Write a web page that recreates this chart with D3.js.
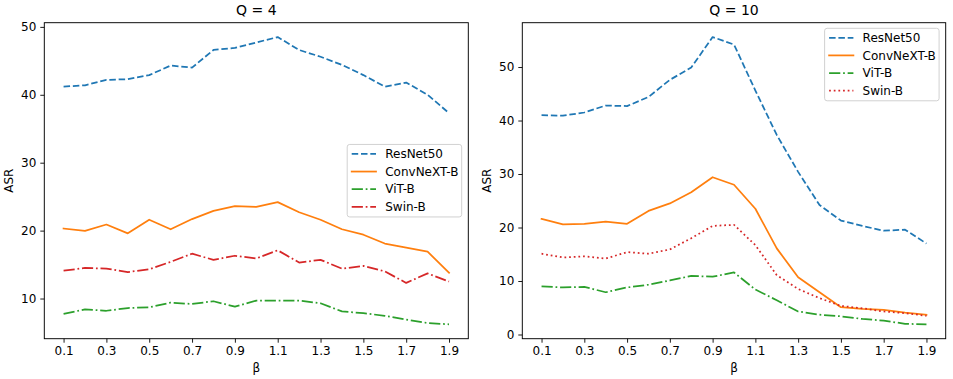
<!DOCTYPE html>
<html>
<head>
<meta charset="utf-8">
<script src="https://cdn.jsdelivr.net/npm/d3@7"></script>
<style>
  html, body { margin: 0; padding: 0; background: #fff; }
  svg { display: block; font-family: "DejaVu Sans", sans-serif; }
</style>
</head>
<body>
<svg id="chart" width="953" height="379"></svg>
<script>
// ---------- data ----------
const betas = [0.1,0.2,0.3,0.4,0.5,0.6,0.7,0.8,0.9,1.0,1.1,1.2,1.3,1.4,1.5,1.6,1.7,1.8,1.9];
const xTickLabels = ["0.1","0.3","0.5","0.7","0.9","1.1","1.3","1.5","1.7","1.9"];
const seriesNames = ["ResNet50","ConvNeXT-B","ViT-B","Swin-B"];

// Q = 4
const q4ResNet50  = [41.2,41.4,42.2,42.3,42.9,44.3,44.0,46.6,46.9,47.7,48.5,46.6,45.6,44.4,42.9,41.2,41.8,40.0,37.3];
const q4ConvNeXtB = [20.3,19.95,20.9,19.6,21.6,20.2,21.7,22.9,23.6,23.5,24.2,22.7,21.6,20.2,19.4,18.1,17.5,16.9,13.8];
const q4ViTB      = [7.75,8.4,8.2,8.6,8.7,9.4,9.2,9.6,8.8,9.7,9.7,9.7,9.3,8.1,7.85,7.45,6.9,6.4,6.2];
const q4SwinB     = [14.1,14.5,14.4,13.9,14.3,15.4,16.6,15.7,16.3,15.9,17.1,15.3,15.7,14.4,14.8,14.0,12.3,13.7,12.5];
const q4Ticks = [10,20,30,40,50];

// Q = 10
const q10ResNet50  = [41.0,40.9,41.5,42.8,42.7,44.4,47.6,49.9,55.6,54.2,45.6,37.3,30.4,24.2,21.3,20.3,19.4,19.6,17.0];
const q10ConvNeXtB = [21.6,20.6,20.7,21.1,20.7,23.1,24.5,26.6,29.4,28.0,23.5,16.1,10.7,7.9,5.1,4.8,4.6,4.1,3.7];
const q10ViTB      = [9.0,8.8,8.9,7.9,8.8,9.3,10.1,10.95,10.8,11.6,8.4,6.4,4.3,3.7,3.4,2.9,2.6,2.0,1.9];
const q10SwinB     = [15.1,14.4,14.6,14.2,15.4,15.1,15.9,18.0,20.3,20.5,16.7,11.1,8.5,6.8,5.35,4.9,4.3,4.0,3.5];
const q10Ticks = [0,10,20,30,40,50];

// ---------- styles ----------
const colors = ["#1f77b4","#ff7f0e","#2ca02c","#d62728"];
const DASH = "6.5,2.8", SOLID = null, DASHDOT = "11.2,2.8,1.75,2.8", DOT = "1.75,2.9";

const svg = d3.select("#chart");

function panel(cfg) {
  const {x0, x1, y0, y1, title, series, styles, yTicks, legendPos} = cfg;
  const all = series.flat();
  const mn = d3.min(all), mx = d3.max(all), r = mx - mn;
  const x = d3.scaleLinear().domain([0.01, 1.99]).range([x0, x1]);
  const y = d3.scaleLinear().domain([mn - 0.05*r, mx + 0.05*r]).range([y1, y0]);
  const g = svg.append("g");

  const line = d3.line().x((d,i) => x(betas[i])).y(d => y(d));
  series.forEach((s, k) => {
    g.append("path")
      .attr("d", line(s))
      .attr("fill", "none")
      .attr("stroke", colors[k])
      .attr("stroke-width", 1.75)
      .attr("stroke-linejoin", "round")
      .attr("stroke-linecap", styles[k] ? "butt" : "square")
      .attr("stroke-dasharray", styles[k]);
  });

  // axes
  const xAxis = d3.axisBottom(x)
    .tickValues(xTickLabels.map(Number))
    .tickFormat((d,i) => xTickLabels[i])
    .tickSize(4).tickPadding(4);
  const gx = g.append("g").attr("transform", `translate(0,${y1})`).call(xAxis);
  const yAxis = d3.axisLeft(y).tickValues(yTicks).tickFormat(d3.format("d")).tickSize(4).tickPadding(4);
  const gy = g.append("g").attr("transform", `translate(${x0},0)`).call(yAxis);
  [gx, gy].forEach(a => {
    a.select(".domain").remove();
    a.selectAll("line").attr("stroke", "#000").attr("stroke-width", 0.9);
    a.selectAll("text").attr("font-size", 12).attr("fill", "#000")
      .attr("font-family", "DejaVu Sans, sans-serif");
  });

  // frame
  g.append("rect").attr("x", x0).attr("y", y0).attr("width", x1 - x0).attr("height", y1 - y0)
    .attr("fill", "none").attr("stroke", "#000").attr("stroke-width", 0.95);

  // title and labels
  g.append("text").attr("x", (x0 + x1)/2).attr("y", 15).attr("text-anchor", "middle")
    .attr("font-size", 14).text(title);
  g.append("text").attr("x", (x0 + x1)/2).attr("y", 372).attr("text-anchor", "middle")
    .attr("font-size", 12).text("β");
  g.append("text")
    .attr("transform", `translate(${x0 - 31},${(y0 + y1)/2}) rotate(-90)`)
    .attr("text-anchor", "middle").attr("font-size", 12).text("ASR");

  // legend
  const lw = 114.5, lh = 72.5;
  const lx = x1 - 6.6 - lw;
  const ly = legendPos === "center right" ? (y0 + y1)/2 - lh/2 : y0 + 5.6;
  const lg = g.append("g").attr("transform", `translate(${lx},${ly})`);
  lg.append("rect").attr("width", lw).attr("height", lh).attr("rx", 2.5)
    .attr("fill", "#fff").attr("fill-opacity", 0.8)
    .attr("stroke", "#cccccc").attr("stroke-width", 0.9);
  seriesNames.forEach((name, k) => {
    const yy = 9.5 + k*17.6;
    lg.append("line").attr("x1", 4.5).attr("x2", 28.8).attr("y1", yy).attr("y2", yy)
      .attr("stroke", colors[k]).attr("stroke-width", 1.75)
      .attr("stroke-linecap", styles[k] ? "butt" : "square")
      .attr("stroke-dasharray", styles[k]);
    lg.append("text").attr("x", 38).attr("y", yy).attr("dy", "0.36em")
      .attr("font-size", 12).text(name);
  });
}

panel({
  x0: 44.3, x1: 468.3, y0: 22.7, y1: 338.7, title: "Q = 4",
  series: [q4ResNet50, q4ConvNeXtB, q4ViTB, q4SwinB],
  styles: [DASH, SOLID, DASHDOT, DASHDOT],
  yTicks: q4Ticks, legendPos: "center right"
});
panel({
  x0: 522.3, x1: 945.7, y0: 22.7, y1: 338.7, title: "Q = 10",
  series: [q10ResNet50, q10ConvNeXtB, q10ViTB, q10SwinB],
  styles: [DASH, SOLID, DASHDOT, DOT],
  yTicks: q10Ticks, legendPos: "upper right"
});
</script>
</body>
</html>
